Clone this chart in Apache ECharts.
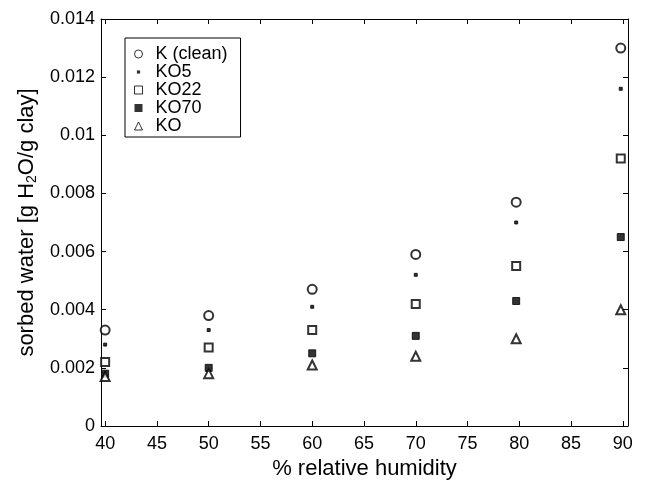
<!DOCTYPE html>
<html>
<head>
<meta charset="utf-8">
<script src="https://cdn.jsdelivr.net/npm/echarts@6/dist/echarts.min.js"></script>
<style>
html,body{margin:0;padding:0;background:#fff;}
#chart{width:649px;height:485px;}
</style>
</head>
<body>
<div id="chart"></div>
<script>
var humidity = [40, 50, 60, 70, 79.7, 89.8];
var kClean = [0.0033, 0.0038, 0.0047, 0.0059, 0.0077, 0.0130];
var ko5    = [0.0028, 0.0033, 0.0041, 0.0052, 0.0070, 0.0116];
var ko22   = [0.0022, 0.0027, 0.0033, 0.0042, 0.0055, 0.0092];
var ko70   = [0.0018, 0.0020, 0.0025, 0.0031, 0.0043, 0.0065];
var ko     = [0.0017, 0.0018, 0.0021, 0.0024, 0.0030, 0.0040];
var xTicks = [40, 45, 50, 55, 60, 65, 70, 75, 80, 85, 90];
var seriesNames = ['K (clean)', 'KO5', 'KO22', 'KO70', 'KO'];

function pairs(ys) { return humidity.map(function (x, i) { return [x, ys[i]]; }); }

var FONT = 'Liberation Sans, Arial, sans-serif';
var chart = echarts.init(document.getElementById('chart'), null, {renderer: 'canvas'});

var xCommon = {
  type: 'value', min: 39.6, max: 90.5,
  axisLine: {show: true, onZero: false, lineStyle: {color: '#000', width: 1}},
  axisTick: {show: true, inside: true, length: 5, customValues: xTicks, lineStyle: {color: '#000'}},
  splitLine: {show: false}
};
var yCommon = {
  type: 'value', min: 0, max: 0.014, interval: 0.002,
  axisLine: {show: true, onZero: false, lineStyle: {color: '#000', width: 1}},
  axisTick: {show: true, inside: true, length: 5, lineStyle: {color: '#000'}},
  splitLine: {show: false}
};

var base = {type: 'scatter', itemStyle: {color: '#000', borderColor: '#000', borderWidth: 1}, z: 3};
var emptyIcon = {color: '#fff', borderColor: '#000', borderWidth: 1};
var fullIcon = {color: '#000', borderColor: '#000', borderWidth: 0};

chart.setOption({
  animation: false,
  backgroundColor: '#fff',
  grid: {left: 101, right: 21, top: 19, bottom: 57.5, containLabel: false},
  legend: {
    left: 125, top: 38, orient: 'vertical',
    borderColor: '#000', borderWidth: 1, borderRadius: 0,
    padding: [7, 13, 2, 9],
    itemWidth: 8, itemHeight: 8, itemGap: 0,
    textStyle: {fontFamily: FONT, fontSize: 18, color: '#000', lineHeight: 18, padding: [0, 0, 0, 8]},
    data: [
      {name: seriesNames[0], icon: 'circle', itemStyle: emptyIcon},
      {name: seriesNames[1], icon: 'path://M0 0M10 10M3 3h4v4h-4z', itemStyle: fullIcon},
      {name: seriesNames[2], icon: 'path://M0.5 0.5h9v9h-9z', itemStyle: emptyIcon},
      {name: seriesNames[3], icon: 'rect', itemStyle: fullIcon},
      {name: seriesNames[4], icon: 'triangle', itemStyle: emptyIcon}
    ]
  },
  xAxis: [
    Object.assign({}, xCommon, {
      position: 'bottom',
      name: '% relative humidity', nameLocation: 'middle', nameGap: 32,
      nameTextStyle: {fontFamily: FONT, fontSize: 22, color: '#000'},
      axisLabel: {show: true, customValues: xTicks, margin: 9, fontFamily: FONT, fontSize: 18, color: '#000'}
    }),
    Object.assign({}, xCommon, {position: 'top', axisLabel: {show: false}})
  ],
  yAxis: [
    Object.assign({}, yCommon, {
      position: 'left',
      name: 'sorbed water [g H{sub|2}O/g clay]', nameLocation: 'middle', nameGap: 57,
      nameTextStyle: {fontFamily: FONT, fontSize: 22, color: '#000',
        rich: {sub: {fontFamily: FONT, fontSize: 14, color: '#000', verticalAlign: 'bottom', padding: [10, 0, 0, 0]}}},
      axisLabel: {show: true, margin: 6, fontFamily: FONT, fontSize: 18, color: '#000'}
    }),
    Object.assign({}, yCommon, {position: 'right', axisLabel: {show: false}})
  ],
  series: [
    Object.assign({}, base, {name: seriesNames[0], symbol: 'emptyCircle', symbolSize: 9, data: pairs(kClean)}),
    Object.assign({}, base, {name: seriesNames[1], symbol: 'rect', symbolSize: 3, data: pairs(ko5)}),
    Object.assign({}, base, {name: seriesNames[2], symbol: 'emptyRect', symbolSize: 8, data: pairs(ko22)}),
    Object.assign({}, base, {name: seriesNames[3], symbol: 'rect', symbolSize: 7, data: pairs(ko70)}),
    Object.assign({}, base, {name: seriesNames[4], symbol: 'emptyTriangle', symbolSize: 9, data: pairs(ko)})
  ]
});
</script>
</body>
</html>
